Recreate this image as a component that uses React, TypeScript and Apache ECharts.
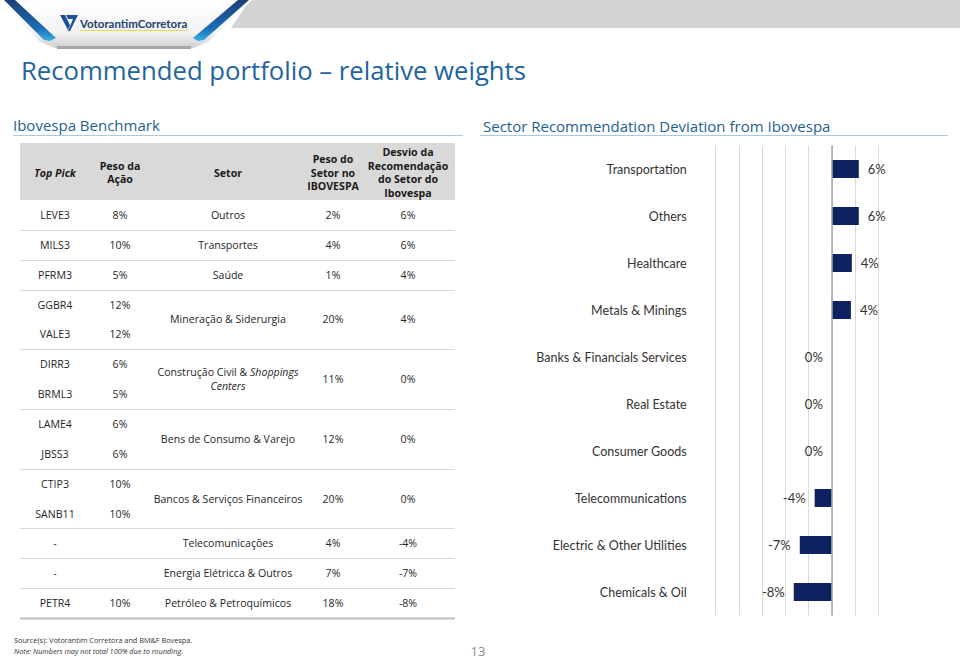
import React, { useEffect, useRef } from "react";
import * as echarts from "echarts";

// ---------- data ----------
const chartCategories = [
  "Transportation",
  "Others",
  "Healthcare",
  "Metals & Minings",
  "Banks & Financials Services",
  "Real Estate",
  "Consumer Goods",
  "Telecommunications",
  "Electric & Other Utilities",
  "Chemicals & Oil",
];
const deviationValues = [5.8, 5.8, 4.3, 4.1, 0, 0, 0, -3.7, -6.9, -8.2];
const xTicks = { min: -25, max: 10, interval: 5 };

const topPicks = ["LEVE3", "MILS3", "PFRM3", "GGBR4", "VALE3", "DIRR3", "BRML3", "LAME4", "JBSS3", "CTIP3", "SANB11", "-", "-", "PETR4"];
const stockWeights = ["8%", "10%", "5%", "12%", "12%", "6%", "5%", "6%", "6%", "10%", "10%", "", "", "10%"];
const sectorNames = [
  "Outros",
  "Transportes",
  "Saúde",
  "Mineração & Siderurgia",
  "Construção Civil & Shoppings Centers",
  "Bens de Consumo & Varejo",
  "Bancos & Serviços Financeiros",
  "Telecomunicações",
  "Energia Elétricca & Outros",
  "Petróleo & Petroquímicos",
];
const sectorRowSpans = [1, 1, 1, 2, 2, 2, 2, 1, 1, 1];
const sectorWeights = ["2%", "4%", "1%", "20%", "11%", "12%", "20%", "4%", "7%", "18%"];
const sectorDeviations = ["6%", "6%", "4%", "4%", "0%", "0%", "0%", "-4%", "-7%", "-8%"];
const tableHeaders = ["Top Pick", "Peso da\nAção", "Setor", "Peso do\nSetor no\nIBOVESPA", "Desvio da\nRecomendação\ndo Setor do\nIbovespa"];

const TITLE = "Recommended portfolio – relative weights";
const LEFT_TITLE = "Ibovespa Benchmark";
const RIGHT_TITLE = "Sector Recommendation Deviation from Ibovespa";
const SOURCE = "Source(s): Votorantim Corretora and BM&F Bovespa.";
const NOTE = "Note: Numbers may not total 100% due to rounding.";
const PAGE = "13";

// ---------- layout ----------
const W = 960;
const H = 659;
const FONT = "'Open Sans', 'Noto Sans', sans-serif";
const NARROW = "Lato, 'Noto Sans', sans-serif";
const TEXT = "#262626";
const BLUE_T = "#1f5f8f";

function buildGraphics(): any[] {
  const g: any[] = [];
  // ---- header banner ----
  g.push({
    type: "polygon",
    shape: { points: [[250, 0], [W, 0], [W, 28], [231, 28]] },
    style: { fill: "#d2d3d5" },
  });
  g.push({
    type: "polygon",
    shape: { points: [[0, 0], [252, 0], [208, 42], [193, 48], [55, 48], [40, 42]] },
    style: {
      fill: new echarts.graphic.LinearGradient(0, 0, 0, 1, [
        { offset: 0, color: "#ffffff" },
        { offset: 0.7, color: "#f2f2f2" },
        { offset: 1, color: "#cfcfcf" },
      ]),
    },
  });
  g.push({
    type: "rect",
    shape: { x: 57, y: 46, width: 134, height: 3 },
    style: { fill: "#a6a6a6" },
  });
  const stripeFill = new echarts.graphic.LinearGradient(0, 0, 0, 1, [
    { offset: 0, color: "#1b3f7a" },
    { offset: 0.7, color: "#1d6db5" },
    { offset: 1, color: "#39b3e6" },
  ]);
  g.push({
    type: "polygon",
    shape: { points: [[4, 0], [15, 0], [56, 38], [50, 41], [44, 40]] },
    style: { fill: stripeFill },
  });
  g.push({
    type: "polygon",
    shape: { points: [[238, 0], [249, 0], [204, 40], [198, 41], [193, 38]] },
    style: { fill: stripeFill },
  });
  // logo mark
  g.push({
    type: "polygon",
    shape: { points: [[60, 15], [65, 15], [70, 25], [68, 30]] },
    style: { fill: "#1e4f99" },
  });
  g.push({
    type: "polygon",
    shape: { points: [[66, 15], [78, 15], [70, 31], [68, 31], [73, 19], [68, 19]] },
    style: { fill: "#1e4f99" },
  });
  g.push({
    type: "text",
    x: 80,
    y: 23,
    style: {
      text: "VotorantimCorretora",
      font: `bold 11.5px ${NARROW}`,
      fill: "#22416f",
      textVerticalAlign: "middle",
    },
  });
  g.push({
    type: "rect",
    shape: { x: 80, y: 30, width: 107, height: 1 },
    style: { fill: "#e2dc62" },
  });

  // ---- main title ----
  g.push({
    type: "text",
    x: 21,
    y: 70,
    style: { text: TITLE, font: `25.7px ${FONT}`, fill: "#1f64a0", textVerticalAlign: "middle" },
  });

  // ---- section titles ----
  g.push({
    type: "text",
    x: 13,
    y: 125,
    style: { text: LEFT_TITLE, font: `15px ${FONT}`, fill: BLUE_T, textVerticalAlign: "middle" },
  });
  g.push({
    type: "line",
    shape: { x1: 13, y1: 135.5, x2: 463, y2: 135.5 },
    style: { stroke: "#a8cbe2", lineWidth: 1 },
  });
  g.push({
    type: "text",
    x: 483,
    y: 126,
    style: { text: RIGHT_TITLE, font: `15px ${FONT}`, fill: BLUE_T, textVerticalAlign: "middle" },
  });
  g.push({
    type: "line",
    shape: { x1: 480, y1: 135.5, x2: 948, y2: 135.5 },
    style: { stroke: "#a8cbe2", lineWidth: 1 },
  });

  // ---- table ----
  const TX0 = 20;
  const TX1 = 455;
  const colX = [55, 120, 228, 333, 408];
  const headTop = 143;
  const headBottom = 200;
  g.push({
    type: "rect",
    shape: { x: TX0, y: headTop, width: TX1 - TX0, height: headBottom - headTop },
    style: { fill: "#d9d9d9" },
  });
  tableHeaders.forEach((h, i) => {
    g.push({
      type: "text",
      x: colX[i],
      y: (headTop + headBottom) / 2 + 1,
      style: {
        text: h,
        font: `${i === 0 ? "italic " : ""}bold 10.6px ${FONT}`,
        fill: "#1a1a1a",
        align: "center",
        verticalAlign: "middle",
        lineHeight: 13.6,
      },
    });
  });
  const rowH = (618 - headBottom) / topPicks.length;
  const cellFont = `10.6px ${FONT}`;
  topPicks.forEach((p, i) => {
    const cy = headBottom + rowH * (i + 0.5);
    g.push({
      type: "text",
      x: colX[0],
      y: cy,
      style: { text: p, font: cellFont, fill: TEXT, align: "center", verticalAlign: "middle" },
    });
    if (stockWeights[i]) {
      g.push({
        type: "text",
        x: colX[1],
        y: cy,
        style: { text: stockWeights[i], font: cellFont, fill: TEXT, align: "center", verticalAlign: "middle" },
      });
    }
  });
  let rowStart = 0;
  sectorNames.forEach((s, k) => {
    const span = sectorRowSpans[k];
    const cy = headBottom + rowH * (rowStart + span / 2);
    const isItalic = s.indexOf("Shoppings") >= 0;
    if (isItalic) {
      g.push({
        type: "text",
        x: colX[2],
        y: cy,
        style: {
          text: "{n|Construção Civil & }{i|Shoppings}\n{i|Centers}",
          align: "center",
          verticalAlign: "middle",
          rich: {
            n: { font: cellFont, fill: TEXT, lineHeight: 14 },
            i: { font: `italic ${cellFont}`, fill: TEXT, lineHeight: 14 },
          },
        },
      });
    } else {
      g.push({
        type: "text",
        x: colX[2],
        y: cy,
        style: { text: s, font: cellFont, fill: TEXT, align: "center", verticalAlign: "middle" },
      });
    }
    g.push({
      type: "text",
      x: colX[3],
      y: cy,
      style: { text: sectorWeights[k], font: cellFont, fill: TEXT, align: "center", verticalAlign: "middle" },
    });
    g.push({
      type: "text",
      x: colX[4],
      y: cy,
      style: { text: sectorDeviations[k], font: cellFont, fill: TEXT, align: "center", verticalAlign: "middle" },
    });
    rowStart += span;
    const ly = Math.round(headBottom + rowH * rowStart) + 0.5;
    const last = k === sectorNames.length - 1;
    g.push({
      type: "line",
      shape: { x1: TX0, y1: ly, x2: TX1, y2: ly },
      style: { stroke: last ? "#bfbfbf" : "#d9d9d9", lineWidth: last ? 2 : 1 },
    });
  });

  // ---- footer ----
  g.push({
    type: "text",
    x: 14,
    y: 640,
    style: { text: SOURCE, font: `7.3px ${FONT}`, fill: "#333333", textVerticalAlign: "middle" },
  });
  g.push({
    type: "text",
    x: 14,
    y: 651,
    style: { text: NOTE, font: `italic 7.3px ${FONT}`, fill: "#333333", textVerticalAlign: "middle" },
  });
  g.push({
    type: "text",
    x: 478,
    y: 651,
    style: { text: PAGE, font: `13px ${FONT}`, fill: "#8c8c8c", align: "center", verticalAlign: "middle" },
  });
  return g;
}

export default function App() {
  const ref = useRef<HTMLDivElement>(null);
  useEffect(() => {
    document.body.style.margin = "0";
    if (!ref.current) return;
    const chart = echarts.init(ref.current, null, { renderer: "svg" });
    const option: any = {
      animation: false,
      backgroundColor: "#ffffff",
      grid: { left: 715.7, right: W - 878.3, top: 145.5, bottom: H - 615.5, containLabel: false },
      xAxis: {
        type: "value",
        min: xTicks.min,
        max: xTicks.max,
        interval: xTicks.interval,
        axisLabel: { show: false },
        axisLine: { show: false },
        axisTick: { show: false },
        splitLine: { show: true, lineStyle: { color: "#d9d9d9", width: 1 } },
      },
      yAxis: {
        type: "category",
        inverse: true,
        data: chartCategories,
        axisLine: { show: false },
        axisTick: { show: false },
        axisLabel: { margin: 29, fontFamily: NARROW, fontSize: 12.5, color: "#333333" },
      },
      series: [
        {
          type: "bar",
          barWidth: 18,
          itemStyle: { color: "#0e2160" },
          data: deviationValues.map((v) => ({
            value: v,
            label: { position: v > 0 ? "right" : "left" },
          })),
          label: {
            show: true,
            distance: 9,
            fontFamily: NARROW,
            fontSize: 13,
            color: "#333333",
            formatter: (p: any) => `${Math.round(p.value)}%`,
          },
          markLine: {
            silent: true,
            symbol: "none",
            label: { show: false },
            lineStyle: { color: "#a6a6a6", type: "solid", width: 1.5 },
            data: [{ xAxis: 0 }],
          },
        },
      ],
      graphic: buildGraphics(),
    };
    chart.setOption(option);
    return () => chart.dispose();
  }, []);
  return <div ref={ref} style={{ width: W, height: H }} />;
}
